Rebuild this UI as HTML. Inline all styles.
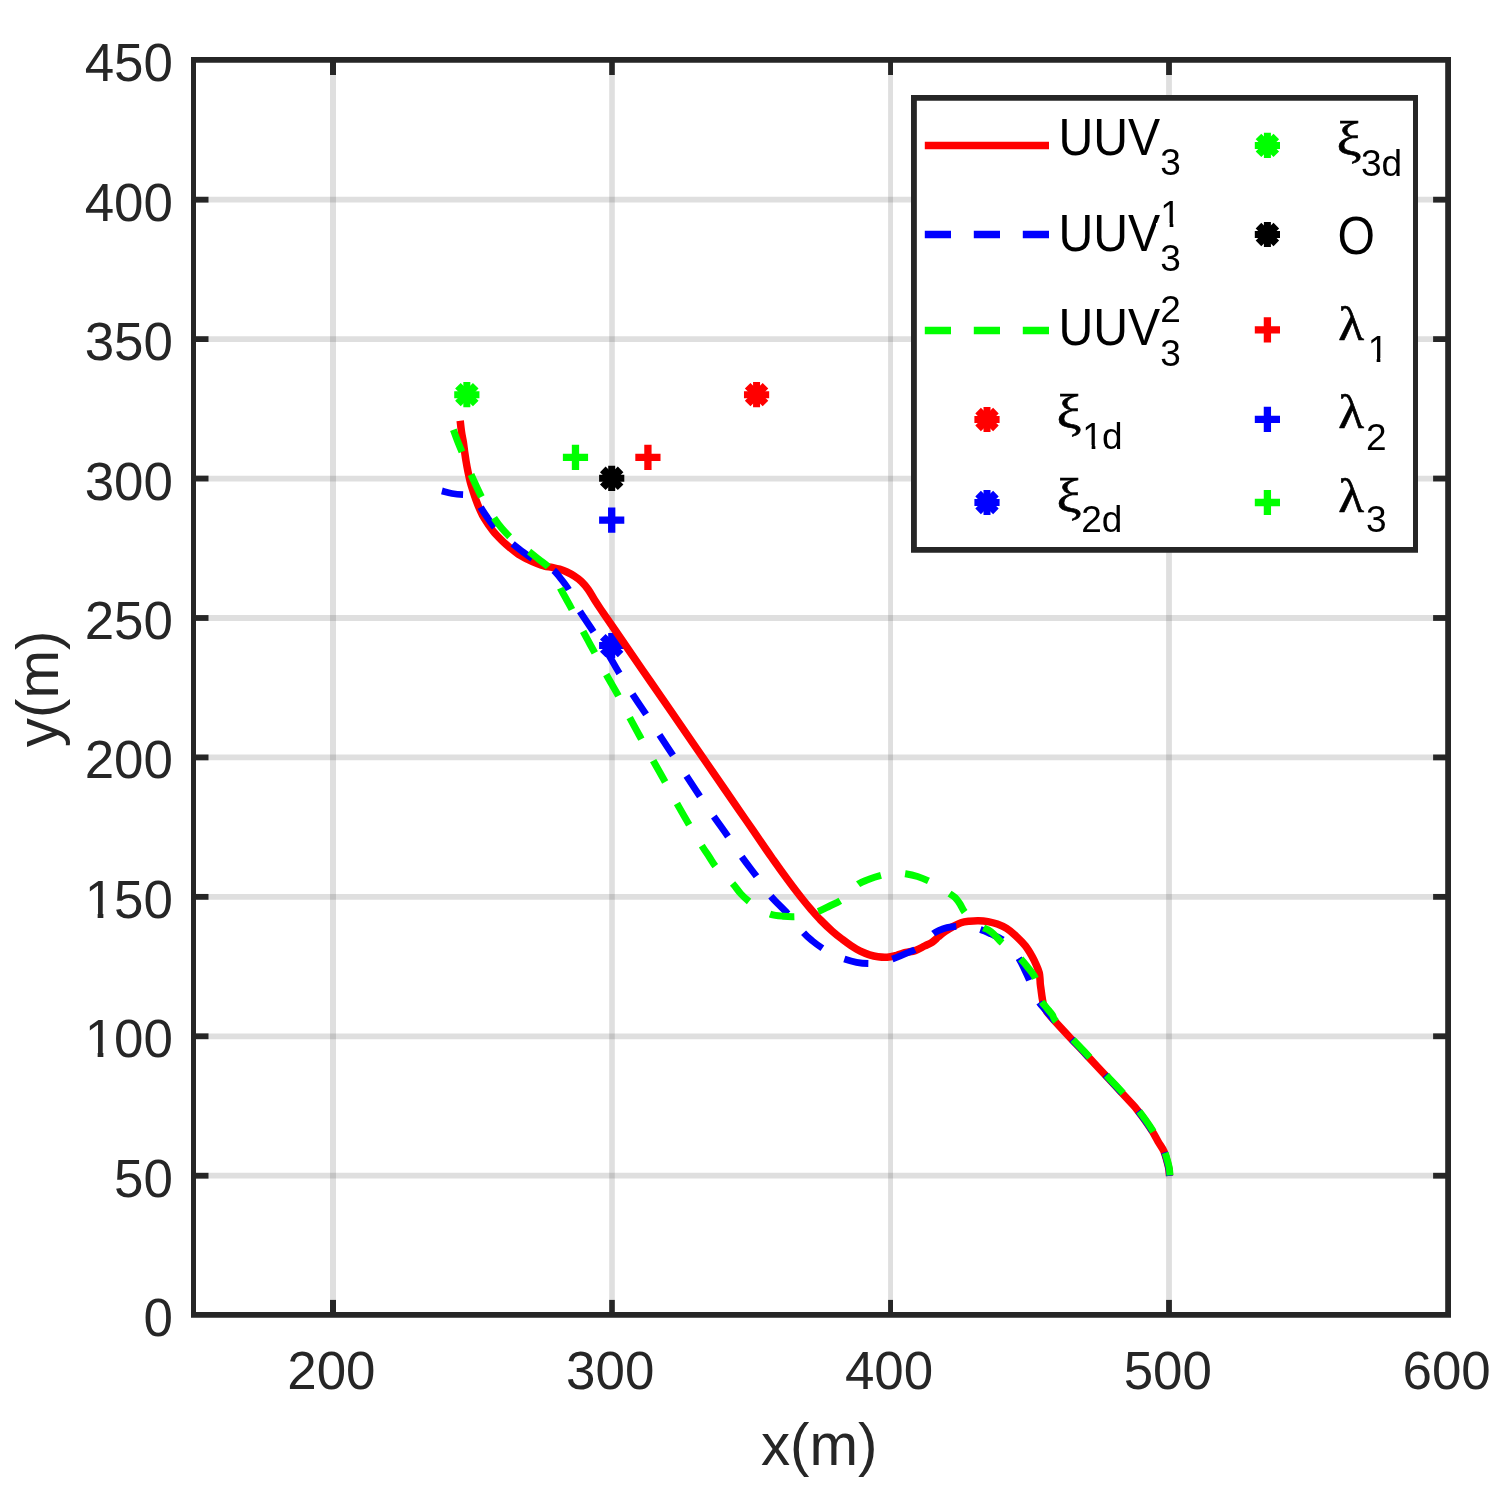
<!DOCTYPE html>
<html lang="en"><head><meta charset="utf-8"><title>UUV trajectories</title>
<style>html,body{margin:0;padding:0;background:#fff}body{width:1510px;height:1502px;overflow:hidden}svg{display:block}text{font-family:'Liberation Sans', 'DejaVu Sans', sans-serif}text.gk{font-family:'Liberation Serif','DejaVu Serif',serif;stroke:#000;stroke-width:0.6px}</style>
</head><body>
<svg width="1510" height="1502" viewBox="0 0 1510 1502">
<rect x="0" y="0" width="1510" height="1502" fill="#fff"/>
<g stroke="#262626" stroke-opacity="0.15" stroke-width="5.8" fill="none">
<line x1="333" y1="60" x2="333" y2="1314.9" stroke-width="6"/>
<line x1="612" y1="60" x2="612" y2="1314.9" stroke-width="5.6"/>
<line x1="890.55" y1="60" x2="890.55" y2="1314.9" stroke-width="4.9"/>
<line x1="1169" y1="60" x2="1169" y2="1314.9" stroke-width="5.8"/>
<line x1="193.5" y1="1175.72" x2="1448.1" y2="1175.72" stroke-width="5.8"/>
<line x1="193.5" y1="1036.28" x2="1448.1" y2="1036.28" stroke-width="5.8"/>
<line x1="193.5" y1="896.85" x2="1448.1" y2="896.85" stroke-width="5.8"/>
<line x1="193.5" y1="757.42" x2="1448.1" y2="757.42" stroke-width="5.8"/>
<line x1="193.5" y1="617.98" x2="1448.1" y2="617.98" stroke-width="5.8"/>
<line x1="193.5" y1="478.55" x2="1448.1" y2="478.55" stroke-width="5.8"/>
<line x1="193.5" y1="339.12" x2="1448.1" y2="339.12" stroke-width="5.8"/>
<line x1="193.5" y1="199.68" x2="1448.1" y2="199.68" stroke-width="5.8"/>
</g>
<g>
<g stroke="#ff0000" fill="none"><path d="M743.97 394.64H769.17M756.57 382.04V407.24" stroke-width="7"/><path d="M747.66 385.73L765.48 403.55M747.66 403.55L765.48 385.73" stroke-width="7.9"/></g>
<g stroke="#0000ff" fill="none"><path d="M599.1 645.62H624.3M611.7 633.02V658.22" stroke-width="7"/><path d="M602.79 636.71L620.61 654.53M602.79 654.53L620.61 636.71" stroke-width="7.9"/></g>
<g stroke="#00ff00" fill="none"><path d="M454.23 394.64H479.43M466.83 382.04V407.24" stroke-width="7"/><path d="M457.92 385.73L475.74 403.55M457.92 403.55L475.74 385.73" stroke-width="7.9"/></g>
<g stroke="#000000" fill="none"><path d="M599.1 478.3H624.3M611.7 465.7V490.9" stroke-width="7"/><path d="M602.79 469.39L620.61 487.21M602.79 487.21L620.61 469.39" stroke-width="7.9"/></g>
<path d="M635.32 457.38H660.52M647.92 444.78V469.99" stroke="#ff0000" stroke-width="7.3" fill="none"/>
<path d="M599.1 520.13H624.3M611.7 507.53V532.73" stroke="#0000ff" stroke-width="7.3" fill="none"/>
<path d="M562.88 457.38H588.08M575.48 444.78V469.99" stroke="#00ff00" stroke-width="7.3" fill="none"/>
</g>
<g fill="none" stroke-width="7.5" stroke-linejoin="round">
<path d="M1169.5 1175.9C1169.4 1174.8 1169.2 1171.3 1168.9 1169.3C1168.6 1167.3 1168.55 1166.93 1167.7 1163.9C1166.85 1160.87 1165.4 1154.82 1163.8 1151.1C1162.2 1147.38 1160.05 1144.97 1158.1 1141.6C1156.15 1138.23 1154.28 1134.45 1152.1 1130.9C1149.92 1127.35 1147.42 1123.72 1145 1120.3C1142.58 1116.88 1139.62 1112.98 1137.6 1110.4C1135.58 1107.82 1136.67 1108.95 1132.9 1104.8C1129.13 1100.65 1120.98 1091.93 1115 1085.5C1109.02 1079.07 1102.2 1071.78 1097 1066.2C1091.8 1060.62 1088.2 1056.67 1083.8 1052C1079.4 1047.33 1075.33 1043.23 1070.6 1038.2C1065.87 1033.17 1059.38 1026.25 1055.4 1021.8C1051.42 1017.35 1048.67 1014.33 1046.7 1011.5C1044.73 1008.67 1044.35 1007.05 1043.6 1004.8C1042.85 1002.55 1042.62 1000.47 1042.2 998C1041.78 995.53 1041.42 992.33 1041.1 990C1040.78 987.67 1040.48 985.8 1040.3 984C1040.12 982.2 1040.18 981.08 1040 979.2C1039.82 977.32 1039.8 975.03 1039.2 972.7C1038.6 970.37 1037.63 968 1036.4 965.2C1035.17 962.4 1033.67 959.15 1031.8 955.9C1029.93 952.65 1027.85 949.03 1025.2 945.7C1022.55 942.37 1019 938.78 1015.9 935.9C1012.8 933.02 1009.7 930.38 1006.6 928.4C1003.5 926.42 1000.4 925.13 997.3 924C994.2 922.87 991.12 922.15 988 921.6C984.88 921.05 981.72 920.77 978.6 920.7C975.48 920.63 972.23 920.87 969.3 921.2C966.37 921.53 963.8 921.75 961 922.7C958.2 923.65 955.15 925.43 952.5 926.9C949.85 928.37 947.43 929.87 945.1 931.5C942.77 933.13 940.68 934.9 938.5 936.7C936.32 938.5 934.32 940.75 932 942.3C929.68 943.85 927.4 944.62 924.6 946C921.8 947.38 918.32 949.52 915.2 950.6C912.08 951.68 909 951.72 905.9 952.5C902.8 953.28 899.7 954.52 896.6 955.3C893.5 956.08 890.4 956.95 887.3 957.2C884.2 957.45 880.97 957.18 878 956.8C875.03 956.42 872.45 955.83 869.5 954.9C866.55 953.97 863.38 952.75 860.3 951.2C857.22 949.65 854 947.58 851 945.6C848 943.62 845.42 941.7 842.3 939.3C839.18 936.9 835.92 934.42 832.3 931.2C828.68 927.98 824.07 923.53 820.6 920C817.13 916.47 814.4 913.33 811.5 910C808.6 906.67 805.88 903.33 803.2 900C800.52 896.67 797.95 893.33 795.4 890C792.85 886.67 790.37 883.33 787.9 880C785.43 876.67 783 873.33 780.6 870C778.2 866.67 775.85 863.33 773.5 860C771.15 856.67 771.1 856.67 766.5 850C761.9 843.33 752.78 830 745.9 820C739.02 810 734.43 803.4 725.2 790C715.97 776.6 703.13 757.93 690.5 739.6C677.87 721.27 661.98 698.27 649.4 680C636.82 661.73 623.03 641.67 615 630C606.97 618.33 604.67 615.12 601.2 610C597.73 604.88 596.37 602.72 594.2 599.3C592.03 595.88 590.33 592.47 588.2 589.5C586.07 586.53 583.7 583.72 581.4 581.5C579.1 579.28 576.82 577.78 574.4 576.2C571.98 574.62 569.38 573.17 566.9 572C564.42 570.83 561.98 569.97 559.5 569.2C557.02 568.43 554.48 567.93 552 567.4C549.52 566.87 547.08 566.63 544.6 566C542.12 565.37 539.9 564.7 537.1 563.6C534.3 562.5 530.9 560.95 527.8 559.4C524.7 557.85 521.45 556.23 518.5 554.3C515.55 552.37 512.9 550.13 510.1 547.8C507.3 545.47 504.55 543.1 501.7 540.3C498.85 537.5 495.9 534.65 493 531C490.1 527.35 486.53 522.07 484.3 518.4C482.07 514.73 481 512.12 479.6 509C478.2 505.88 476.98 502.65 475.9 499.7C474.82 496.75 474.03 494.25 473.1 491.3C472.17 488.35 471.15 485.25 470.3 482C469.45 478.75 468.7 475.22 468 471.8C467.3 468.38 466.65 464.77 466.1 461.5C465.55 458.23 465.17 455.47 464.7 452.2C464.23 448.93 463.82 445.17 463.3 441.9C462.78 438.63 462.12 436.12 461.6 432.6C461.08 429.08 460.43 422.77 460.2 420.8" stroke="#ff0000"/>
<path d="M1169.5 1175.9C1169.4 1174.8 1169.2 1171.3 1168.9 1169.3C1168.6 1167.3 1168.55 1166.93 1167.7 1163.9C1166.85 1160.87 1165.4 1154.82 1163.8 1151.1C1162.2 1147.38 1160.05 1144.97 1158.1 1141.6C1156.15 1138.23 1154.28 1134.45 1152.1 1130.9C1149.92 1127.35 1147.42 1123.72 1145 1120.3C1142.58 1116.88 1139.62 1112.98 1137.6 1110.4C1135.58 1107.82 1136.67 1108.95 1132.9 1104.8C1129.13 1100.65 1120.98 1091.93 1115 1085.5C1109.02 1079.07 1102.2 1071.78 1097 1066.2C1091.8 1060.62 1088.2 1056.67 1083.8 1052C1079.4 1047.33 1075.33 1043.23 1070.6 1038.2C1065.87 1033.17 1059.37 1026.25 1055.4 1021.8C1051.43 1017.35 1049.6 1014.83 1046.8 1011.5C1044 1008.17 1040.65 1004.88 1038.6 1001.8C1036.55 998.72 1035.57 995.3 1034.5 993C1033.43 990.7 1033.03 990.08 1032.2 988C1031.37 985.92 1030.78 983.58 1029.5 980.5C1028.22 977.42 1026.27 973.15 1024.5 969.5C1022.73 965.85 1021.23 962.18 1018.9 958.6C1016.57 955.02 1013.25 951.17 1010.5 948C1007.75 944.83 1005.65 941.93 1002.4 939.6C999.15 937.27 994.73 935.7 991 934C987.27 932.3 983.75 930.68 980 929.4C976.25 928.12 972.33 926.82 968.5 926.3C964.67 925.78 960.58 926.08 957 926.3C953.42 926.52 950.07 926.88 947 927.6C943.93 928.32 940.93 929.57 938.6 930.6C936.27 931.63 934.93 932.32 933 933.8C931.07 935.28 929 937.55 927 939.5C925 941.45 922.97 943.8 921 945.5C919.03 947.2 918.07 948.23 915.2 949.7C912.33 951.17 907.6 952.75 903.8 954.3C900 955.85 896.2 957.63 892.4 959C888.6 960.37 884.88 961.75 881 962.5C877.12 963.25 873.18 963.53 869.1 963.5C865.02 963.47 860.62 963.05 856.5 962.3C852.38 961.55 848.32 960.3 844.4 959C840.48 957.7 836.65 956.28 833 954.5C829.35 952.72 825.92 950.55 822.5 948.3C819.08 946.05 815.68 943.63 812.5 941C809.32 938.37 807.57 937.08 803.4 932.5C799.23 927.92 792.93 919.57 787.5 913.5C782.07 907.43 776 902.33 770.8 896.1C765.6 889.87 761.05 882.53 756.3 876.1C751.55 869.67 747 864.07 742.3 857.5C737.6 850.93 732.88 843.58 728.1 836.7C723.32 829.82 718.27 822.88 713.6 816.2C708.93 809.52 704.6 803.28 700.1 796.6C695.6 789.92 691.1 782.93 686.6 776.1C682.1 769.27 677.6 762.43 673.1 755.6C668.6 748.77 664.03 741.85 659.6 735.1C655.17 728.35 651.02 721.93 646.5 715.1C641.98 708.27 636.93 700.93 632.5 694.1C628.07 687.27 624.17 681.12 619.9 674.1C615.63 667.08 611.25 658.98 606.9 652C602.55 645.02 598.32 639 593.8 632.2C589.28 625.4 583.1 616.48 579.8 611.2C576.5 605.92 575.83 604.08 574 600.5C572.17 596.92 570.88 593.2 568.8 589.7C566.72 586.2 564.07 582.77 561.5 579.5C558.93 576.23 556.4 572.52 553.4 570.1C550.4 567.68 546.9 566.85 543.5 565C540.1 563.15 536.42 561.17 533 559C529.58 556.83 526.35 554.48 523 552C519.65 549.52 516.23 546.77 512.9 544.1C509.57 541.43 506.18 538.97 503 536C499.82 533.03 496.47 529.47 493.8 526.3C491.13 523.13 489.18 520.18 487 517C484.82 513.82 482.45 510.28 480.7 507.2C478.95 504.12 478.28 500.67 476.5 498.5C474.72 496.33 472.2 494.85 470 494.2C467.8 493.55 466.3 494.72 463.3 494.6C460.3 494.48 455.57 494.12 452 493.5C448.43 492.88 443.58 491.33 441.9 490.9" stroke="#0000ff" stroke-width="6.8" stroke-dasharray="24.5 24.5" stroke-dashoffset="0.5"/>
<path d="M1170 1175.4C1169.9 1174.3 1169.7 1170.8 1169.4 1168.8C1169.1 1166.8 1169.05 1166.43 1168.2 1163.4C1167.35 1160.37 1165.9 1154.32 1164.3 1150.6C1162.7 1146.88 1160.55 1144.47 1158.6 1141.1C1156.65 1137.73 1154.78 1133.95 1152.6 1130.4C1150.42 1126.85 1147.92 1123.22 1145.5 1119.8C1143.08 1116.38 1140.12 1112.48 1138.1 1109.9C1136.08 1107.32 1137.17 1108.45 1133.4 1104.3C1129.63 1100.15 1121.48 1091.43 1115.5 1085C1109.52 1078.57 1102.7 1071.28 1097.5 1065.7C1092.3 1060.12 1088.7 1056.17 1084.3 1051.5C1079.9 1046.83 1075.83 1042.73 1071.1 1037.7C1066.37 1032.67 1059.02 1025.1 1055.9 1021.3C1052.78 1017.5 1053.65 1016.78 1052.4 1014.9C1051.15 1013.02 1049.72 1011.62 1048.4 1010C1047.08 1008.38 1045.82 1006.82 1044.5 1005.2C1043.18 1003.58 1041.35 1001.83 1040.5 1000.3C1039.65 998.77 1039.78 997.8 1039.4 996C1039.02 994.2 1038.93 992.6 1038.2 989.5C1037.47 986.4 1036.78 981.15 1035 977.4C1033.22 973.65 1030.07 970.27 1027.5 967C1024.93 963.73 1022.47 960.75 1019.6 957.8C1016.73 954.85 1013.4 951.95 1010.3 949.3C1007.2 946.65 1003.78 944.45 1001 941.9C998.22 939.35 995.77 936.02 993.6 934C991.43 931.98 989.87 930.92 988 929.8C986.13 928.68 984.98 928.88 982.4 927.3C979.82 925.72 975.43 922.8 972.5 920.3C969.57 917.8 966.88 915.02 964.8 912.3C962.72 909.58 961.58 906.42 960 904C958.42 901.58 956.93 899.47 955.3 897.8C953.67 896.13 952.75 895.8 950.2 894C947.65 892.2 943.5 889.13 940 887C936.5 884.87 932.95 882.95 929.2 881.2C925.45 879.45 921.45 877.73 917.5 876.5C913.55 875.27 909.5 874.43 905.5 873.8C901.5 873.17 897.47 872.47 893.5 872.7C889.53 872.93 885.78 874.12 881.7 875.2C877.62 876.28 872.92 877.7 869 879.2C865.08 880.7 861.37 881.98 858.2 884.2C855.03 886.42 852.85 889.82 850 892.5C847.15 895.18 844.48 898.05 841.1 900.3C837.72 902.55 833.5 904.13 829.7 906C825.9 907.87 822.08 910 818.3 911.5C814.52 913 810.8 914.15 807 915C803.2 915.85 799.5 916.4 795.5 916.6C791.5 916.8 787.12 916.58 783 916.2C778.88 915.82 774.63 915.5 770.8 914.3C766.97 913.1 763.58 911.1 760 909C756.42 906.9 752.47 904.2 749.3 901.7C746.13 899.2 743.72 896.95 741 894C738.28 891.05 735.75 887.08 733 884C730.25 880.92 727.33 878.33 724.5 875.5C721.67 872.67 718.58 870.17 716 867C713.42 863.83 711.33 860 709 856.5C706.67 853 705.27 851.23 702 846C698.73 840.77 693.52 832.08 689.4 825.1C685.28 818.12 681.27 811.17 677.3 804.1C673.33 797.03 669.57 789.85 665.6 782.7C661.63 775.55 657.47 768.33 653.5 761.2C649.53 754.07 645.7 747.03 641.8 739.9C637.9 732.77 633.9 725.57 630.1 718.4C626.3 711.23 622.88 704.05 619 696.9C615.12 689.75 610.77 682.72 606.8 675.5C602.83 668.28 599.08 660.82 595.2 653.6C591.32 646.38 587.35 639.5 583.5 632.2C579.65 624.9 574.93 615.25 572.1 609.8C569.27 604.35 568.37 602.92 566.5 599.5C564.63 596.08 562.73 593.05 560.9 589.3C559.07 585.55 557.6 580.73 555.5 577C553.4 573.27 551.05 569.82 548.3 566.9C545.55 563.98 542.12 561.98 539 559.5C535.88 557.02 532.85 554.42 529.6 552C526.35 549.58 522.75 547.48 519.5 545C516.25 542.52 513.02 539.85 510.1 537.1C507.18 534.35 504.57 531.53 502 528.5C499.43 525.47 497.03 522.4 494.7 518.9C492.37 515.4 490.2 511.17 488 507.5C485.8 503.83 484.22 502.15 481.5 496.9C478.78 491.65 474.2 481.57 471.7 476C469.2 470.43 468.13 467.55 466.5 463.5C464.87 459.45 463.4 455.45 461.9 451.7C460.4 447.95 458.92 444.65 457.5 441C456.08 437.35 454.08 431.67 453.4 429.8" stroke="#00ff00" stroke-width="7.0" stroke-dasharray="24.5 24.5" stroke-dashoffset="1.5"/>
</g>
<g stroke="#262626" stroke-width="5.8" fill="none">
<line x1="333" y1="1314.9" x2="333" y2="1299.9" stroke-width="6"/>
<line x1="333" y1="60" x2="333" y2="75" stroke-width="6"/>
<line x1="612" y1="1314.9" x2="612" y2="1299.9" stroke-width="5.6"/>
<line x1="612" y1="60" x2="612" y2="75" stroke-width="5.6"/>
<line x1="890.55" y1="1314.9" x2="890.55" y2="1299.9" stroke-width="4.9"/>
<line x1="890.55" y1="60" x2="890.55" y2="75" stroke-width="4.9"/>
<line x1="1169" y1="1314.9" x2="1169" y2="1299.9" stroke-width="5.8"/>
<line x1="1169" y1="60" x2="1169" y2="75" stroke-width="5.8"/>
<line x1="193.5" y1="1175.72" x2="208.5" y2="1175.72" stroke-width="5.8"/>
<line x1="1448.1" y1="1175.72" x2="1433.1" y2="1175.72" stroke-width="5.8"/>
<line x1="193.5" y1="1036.28" x2="208.5" y2="1036.28" stroke-width="5.8"/>
<line x1="1448.1" y1="1036.28" x2="1433.1" y2="1036.28" stroke-width="5.8"/>
<line x1="193.5" y1="896.85" x2="208.5" y2="896.85" stroke-width="5.8"/>
<line x1="1448.1" y1="896.85" x2="1433.1" y2="896.85" stroke-width="5.8"/>
<line x1="193.5" y1="757.42" x2="208.5" y2="757.42" stroke-width="5.8"/>
<line x1="1448.1" y1="757.42" x2="1433.1" y2="757.42" stroke-width="5.8"/>
<line x1="193.5" y1="617.98" x2="208.5" y2="617.98" stroke-width="5.8"/>
<line x1="1448.1" y1="617.98" x2="1433.1" y2="617.98" stroke-width="5.8"/>
<line x1="193.5" y1="478.55" x2="208.5" y2="478.55" stroke-width="5.8"/>
<line x1="1448.1" y1="478.55" x2="1433.1" y2="478.55" stroke-width="5.8"/>
<line x1="193.5" y1="339.12" x2="208.5" y2="339.12" stroke-width="5.8"/>
<line x1="1448.1" y1="339.12" x2="1433.1" y2="339.12" stroke-width="5.8"/>
<line x1="193.5" y1="199.68" x2="208.5" y2="199.68" stroke-width="5.8"/>
<line x1="1448.1" y1="199.68" x2="1433.1" y2="199.68" stroke-width="5.8"/>
</g>
<path fill-rule="evenodd" fill="#262626" d="M191 57.1H1451V1317.75H191ZM196 62.85H1445.2V1312H196Z"/>
<g fill="#262626" font-size="52.9">
<text x="331.4" y="1388.5" text-anchor="middle">200</text>
<text x="610.2" y="1388.5" text-anchor="middle">300</text>
<text x="889" y="1388.5" text-anchor="middle">400</text>
<text x="1167.8" y="1388.5" text-anchor="middle">500</text>
<text x="1446.6" y="1388.5" text-anchor="middle">600</text>
<text x="172.9" y="1336.1" text-anchor="end">0</text>
<text x="172.9" y="1196.67" text-anchor="end">50</text>
<text x="172.9" y="1057.23" text-anchor="end">100</text>
<text x="172.9" y="917.8" text-anchor="end">150</text>
<text x="172.9" y="778.37" text-anchor="end">200</text>
<text x="172.9" y="638.93" text-anchor="end">250</text>
<text x="172.9" y="499.5" text-anchor="end">300</text>
<text x="172.9" y="360.07" text-anchor="end">350</text>
<text x="172.9" y="220.63" text-anchor="end">400</text>
<text x="172.9" y="81.2" text-anchor="end">450</text>
</g>
<text x="819.2" y="1465.1" text-anchor="middle" font-size="58.3" fill="#262626">x(m)</text>
<text transform="translate(58 688.9) rotate(-90)" text-anchor="middle" font-size="58.3" fill="#262626">y(m)</text>
<rect x="912" y="96" width="505" height="456" fill="#fff"/>
<path fill-rule="evenodd" fill="#262626" d="M911 95H1418V552.8H911ZM916.85 100.8H1413V547.1H916.85Z"/>
<g fill="none" stroke-width="7.5">
<path d="M924.8 145.5H1049" stroke="#ff0000"/>
<path d="M924.8 234.4H1049" stroke="#0000ff" stroke-dasharray="26.2 22.8"/>
<path d="M924.8 330.4H1049" stroke="#00ff00" stroke-dasharray="26.2 22.8"/>
</g>
<g stroke="#ff0000" fill="none"><path d="M974.4 419.5H999.6M987 406.9V432.1" stroke-width="7"/><path d="M978.09 410.59L995.91 428.41M978.09 428.41L995.91 410.59" stroke-width="7.9"/></g>
<g stroke="#0000ff" fill="none"><path d="M974.4 502.5H999.6M987 489.9V515.1" stroke-width="7"/><path d="M978.09 493.59L995.91 511.41M978.09 511.41L995.91 493.59" stroke-width="7.9"/></g>
<g stroke="#00ff00" fill="none"><path d="M1254.8 145.4H1280M1267.4 132.8V158" stroke-width="7"/><path d="M1258.49 136.49L1276.31 154.31M1258.49 154.31L1276.31 136.49" stroke-width="7.9"/></g>
<g stroke="#000000" fill="none"><path d="M1254.8 234.5H1280M1267.4 221.9V247.1" stroke-width="7"/><path d="M1258.49 225.59L1276.31 243.41M1258.49 243.41L1276.31 225.59" stroke-width="7.9"/></g>
<path d="M1254.8 329.9H1280M1267.4 317.3V342.5" stroke="#ff0000" stroke-width="7.3" fill="none"/>
<path d="M1254.8 419.4H1280M1267.4 406.8V432" stroke="#0000ff" stroke-width="7.3" fill="none"/>
<path d="M1254.8 502.5H1280M1267.4 489.9V515.1" stroke="#00ff00" stroke-width="7.3" fill="none"/>
<g fill="#000">
<text transform="translate(1058.5 154.9) scale(1 1.09)" font-size="48.2">UUV</text>
<text x="1160.3" y="175.4" font-size="37">3</text>
<text transform="translate(1058.5 250.7) scale(1 1.09)" font-size="48.2">UUV</text>
<text x="1160.3" y="227" font-size="37">1</text>
<text x="1160.3" y="270.9" font-size="37">3</text>
<text transform="translate(1058.5 345.4) scale(1 1.09)" font-size="48.2">UUV</text>
<text x="1160.3" y="321.8" font-size="37">2</text>
<text x="1160.3" y="365.7" font-size="37">3</text>
<text class="gk" transform="translate(1056.5 428) scale(1.17 1)" font-size="48">ξ</text>
<text x="1082.2" y="448.7" font-size="37">1</text>
<text x="1101.9" y="448.7" font-size="37">d</text>
<text class="gk" transform="translate(1056.5 511.5) scale(1.17 1)" font-size="48">ξ</text>
<text x="1081.3" y="532.2" font-size="37">2d</text>
<text class="gk" transform="translate(1336.6 155.1) scale(1.17 1)" font-size="48">ξ</text>
<text x="1361" y="175.8" font-size="37">3d</text>
<text transform="translate(1337.5 253.9) scale(1 1.1)" font-size="48.2">O</text>
<text class="gk" transform="translate(1338.3 339.7) scale(1.11 1)" font-size="48">λ</text>
<text x="1367.8" y="361.9" font-size="37">1</text>
<text class="gk" transform="translate(1338.3 428.3) scale(1.11 1)" font-size="48">λ</text>
<text x="1366" y="449.6" font-size="37">2</text>
<text class="gk" transform="translate(1338.3 512.3) scale(1.11 1)" font-size="48">λ</text>
<text x="1366" y="531.9" font-size="37">3</text>
</g>
<g fill="#fff">
<rect x="87" y="1052" width="10.65" height="5.5"/>
<rect x="103.35" y="1052" width="10.65" height="5.5"/>
<rect x="87" y="913" width="10.65" height="5.5"/>
<rect x="103.35" y="913" width="10.65" height="5.5"/>
<rect x="1156" y="223" width="13.65" height="4.5"/>
<rect x="1173.35" y="223" width="7.65" height="4.5"/>
<rect x="1084" y="445" width="7.65" height="4.5"/>
<rect x="1095.35" y="445" width="7.65" height="4.5"/>
<rect x="1369" y="358" width="7.65" height="4.5"/>
<rect x="1380.35" y="358" width="8.65" height="4.5"/>
</g>
</svg>
</body></html>
